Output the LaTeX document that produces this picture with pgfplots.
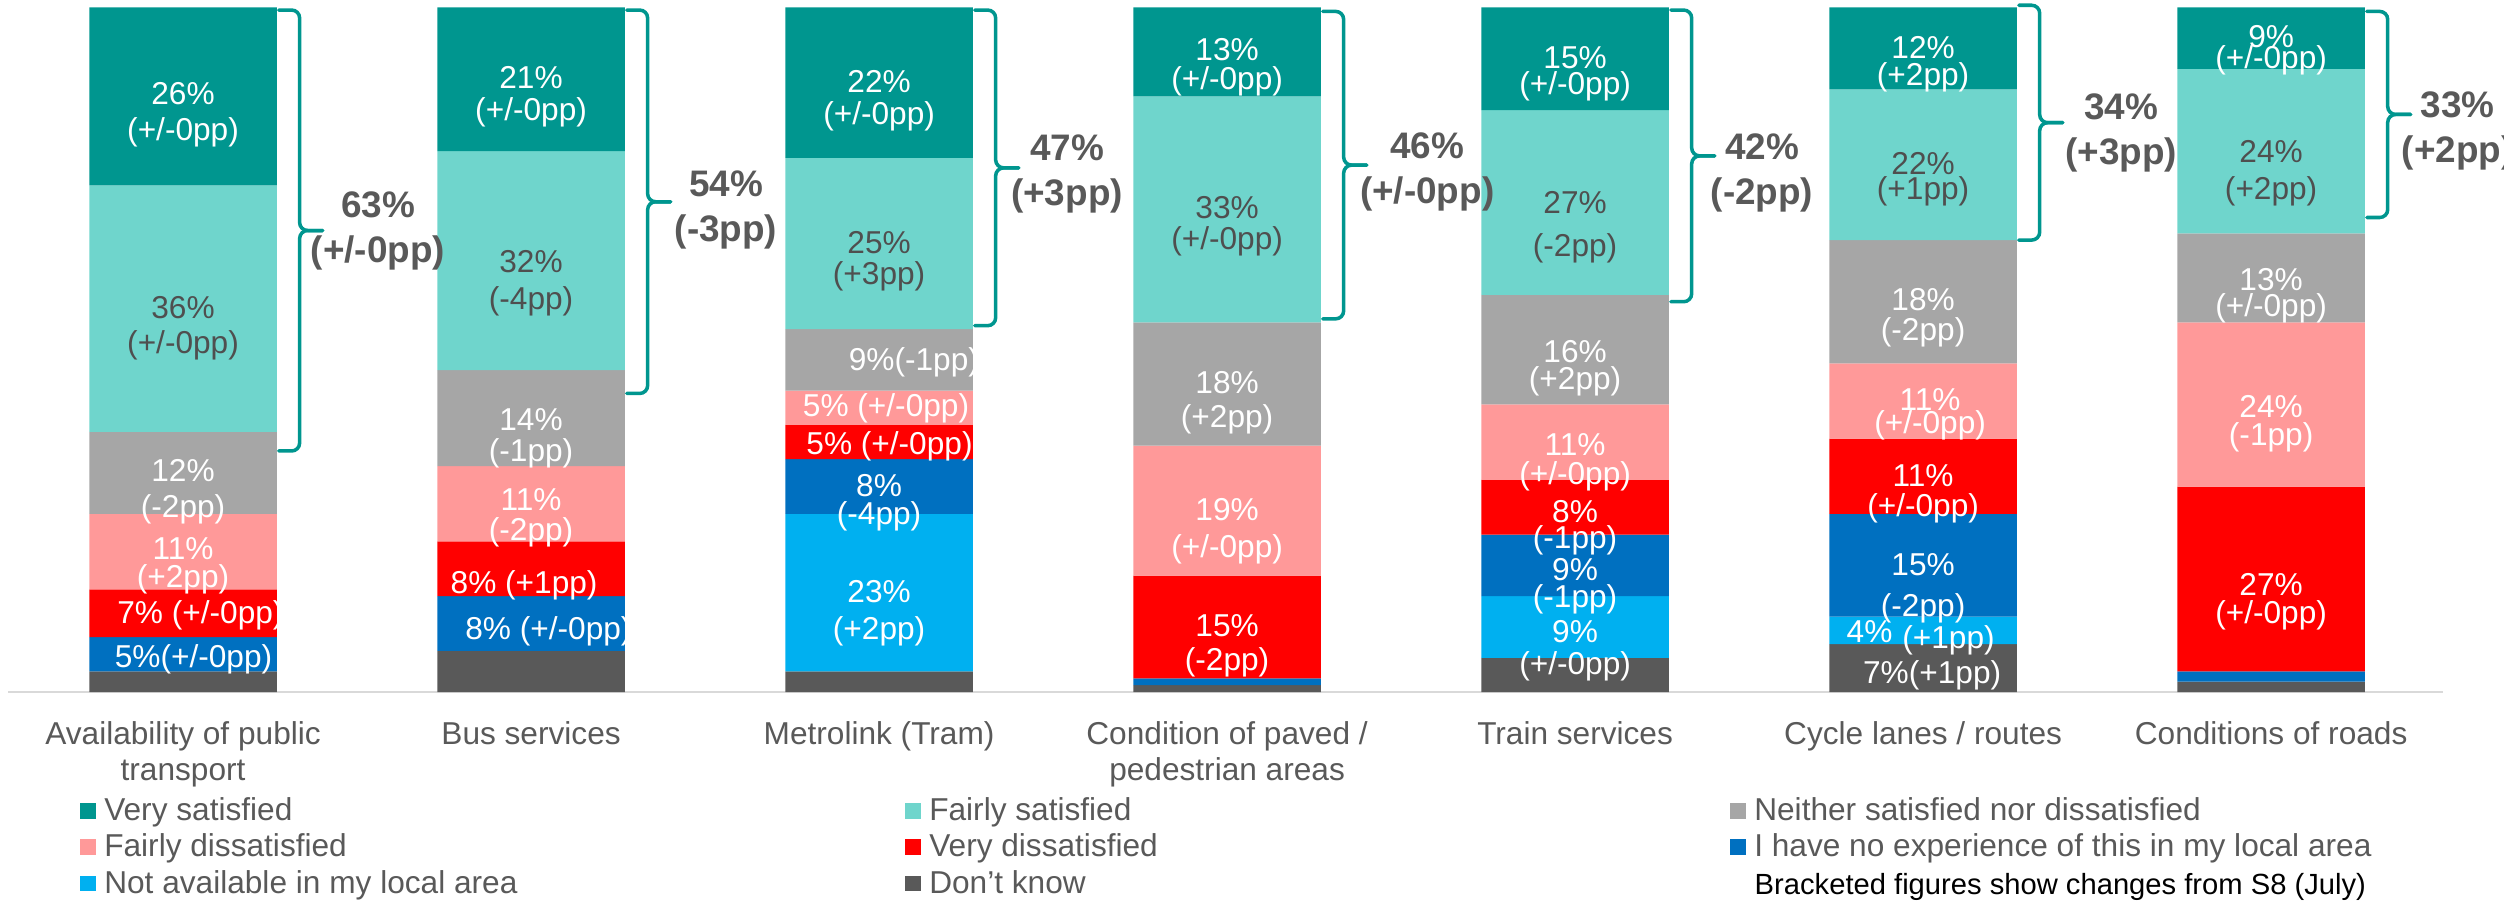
\documentclass[border=0pt]{standalone}
\usepackage{fontspec}
\setmainfont{Liberation Sans}
\usepackage{pgfplots}
\usepackage{pgfplotstable}
\pgfplotsset{compat=1.18}

\definecolor{vsat}{HTML}{00968F}
\definecolor{fsat}{HTML}{6FD5CC}
\definecolor{neith}{HTML}{A6A6A6}
\definecolor{fdis}{HTML}{FF9999}
\definecolor{vdis}{HTML}{FF0000}
\definecolor{noexp}{HTML}{0070C0}
\definecolor{notav}{HTML}{00B0F0}
\definecolor{dknow}{HTML}{595959}
\definecolor{txtgray}{HTML}{595959}
\definecolor{lbldark}{HTML}{4F4F4F}
\definecolor{axisgray}{HTML}{D9D9D9}

% shares of respondents, stacked from the bottom of each bar upwards
\pgfplotstableread{
x  dk  na  ne   vd  fd  nt  fs  vs
0  3   0   5    7   11  12  36  26
1  6   0   8    8   11  14  32  21
2  3   23  8    5   5   9   25  22
3  1   0   1    15  19  18  33  13
4  5   9   9    8   11  16  27  15
5  7   4   15   11  11  18  22  12
6  1.5 0   1.5  27  24  13  24  9
}\satdata

\pgfplotsset{
  legsq/.style={legend image code/.code={%
    \fill[##1] (0cm,-0.0625cm) rectangle (0.155cm,0.0935cm);}},
}

% two-line segment label: x, y, colour, value, change, line distance
\newcommand{\lab}[6]{\node[text=#3, align=center, inner sep=0pt,
  font={\fontsize{9}{#6}\selectfont\lineskiplimit=-20pt\lineskip=0pt}]
  at (axis cs:#1,#2) {#4\\#5};}
% one-line segment label
\newcommand{\slab}[4]{\node[text=#3, inner sep=0pt, font=\fontsize{9}{10.4}\selectfont]
  at (axis cs:#1,#2) {#4};}
% satisfied total beside a bar
\newcommand{\tot}[4]{\node[text=txtgray, align=center, inner sep=0pt,
  font={\fontsize{10.5}{12.8}\selectfont\bfseries}]
  at (axis cs:#1,#2) {#3\\#4};}
% brace round the two satisfied segments: edge x, line x, tip x, top, middle, bottom
\newcommand{\satbrace}[6]{%
  \draw[brc] (axis cs:#1,#4) -- (axis cs:#2,#4) -- (axis cs:#2,#5) -- (axis cs:#3,#5);
  \draw[brc] (axis cs:#3,#5) -- (axis cs:#2,#5) -- (axis cs:#2,#6) -- (axis cs:#1,#6);}

\begin{document}
\begin{tikzpicture}[brc/.style={draw=vsat, line width=1pt, rounded corners=0.08cm, line cap=round}]
\useasboundingbox (0,0) rectangle (25.04,9.03);
\begin{axis}[
  at={(0.08cm,2.11cm)}, anchor=south west,
  scale only axis, width=24.35cm, height=6.847cm,
  xmin=-0.503, xmax=6.494, ymin=0, ymax=100,
  ybar stacked, bar width=1.875cm, reverse stacked plots=false,
  clip=false,
  axis x line*=bottom, axis y line=none,
  x axis line style={draw=axisgray, line width=0.7pt},
  xtick={0,...,6}, xtick style={draw=none}, ytick=\empty,
  xticklabels={{Availability of public\\transport},{Bus services},{Metrolink (Tram)},
    {Condition of paved /\\pedestrian areas},{Train services},{Cycle lanes / routes},
    {Conditions of roads}},
  xticklabel style={align=center, font=\fontsize{9}{10.4}\selectfont, text=txtgray,
    inner sep=0pt, anchor=north, yshift=-0.285cm},
  legend columns=3, reverse legend,
  legend style={draw=none, fill=none, inner sep=0pt, at={(0.0294,-0.15)},
    anchor=north west, font=\fontsize{9}{10.4}\selectfont, text=txtgray,
    cells={anchor=west},
    nodes={inner sep=0pt, text height=7.2pt, text depth=2.5pt, text=txtgray},
    row sep=0.6pt, column sep=0pt,
    /tikz/every odd column/.append style={column sep=0.085cm}},
]
\addplot[fill=dknow, draw=none, legsq] table[x=x, y=dk] {\satdata};
\addlegendentry{\makebox[8.01cm][l]{Don’t know}}
\addplot[fill=notav, draw=none, legsq] table[x=x, y=na] {\satdata};
\addlegendentry{\makebox[8.01cm][l]{Not available in my local area}}
\addplot[fill=noexp, draw=none, legsq] table[x=x, y=ne] {\satdata};
\addlegendentry{\makebox[8.01cm][l]{I have no experience of this in my local area}}
\addplot[fill=vdis, draw=none, legsq] table[x=x, y=vd] {\satdata};
\addlegendentry{\makebox[8.01cm][l]{Very dissatisfied}}
\addplot[fill=fdis, draw=none, legsq] table[x=x, y=fd] {\satdata};
\addlegendentry{\makebox[8.01cm][l]{Fairly dissatisfied}}
\addplot[fill=neith, draw=none, legsq] table[x=x, y=nt] {\satdata};
\addlegendentry{\makebox[8.01cm][l]{Neither satisfied nor dissatisfied}}
\addplot[fill=fsat, draw=none, legsq] table[x=x, y=fs] {\satdata};
\addlegendentry{\makebox[8.01cm][l]{Fairly satisfied}}
\addplot[fill=vsat, draw=none, legsq] table[x=x, y=vs] {\satdata};
\addlegendentry{\makebox[8.01cm][l]{Very satisfied}}

% Availability of public transport
\lab{0}{84.3}{white}{26\%}{(+/-0pp)}{0.36cm}
\lab{0}{53.2}{lbldark}{36\%}{(+/-0pp)}{0.35cm}
\lab{0}{29.2}{white}{12\%}{(-2pp)}{0.36cm}
\lab{0}{18.4}{white}{11\%}{(+2pp)}{0.28cm}
\slab{0.05}{11.2}{white}{7\% (+/-0pp)}
\slab{0.03}{4.8}{white}{5\%(+/-0pp)}
% Bus services
\lab{1}{87}{white}{21\%}{(+/-0pp)}{0.32cm}
\lab{1}{59.7}{lbldark}{32\%}{(-4pp)}{0.375cm}
\lab{1}{37}{white}{14\%}{(-1pp)}{0.31cm}
\lab{1}{25.5}{white}{11\%}{(-2pp)}{0.30cm}
\slab{0.98}{15.6}{white}{8\% (+1pp)}
\slab{1.05}{8.8}{white}{8\% (+/-0pp)}
% Metrolink (Tram)
\lab{2}{86.4}{white}{22\%}{(+/-0pp)}{0.32cm}
\lab{2}{62.9}{lbldark}{25\%}{(+3pp)}{0.31cm}
\slab{2.10}{48.1}{white}{9\%(-1pp)}
\slab{2.02}{41.4}{white}{5\% (+/-0pp)}
\slab{2.03}{35.9}{white}{5\% (+/-0pp)}
\lab{2}{27.6}{white}{8\%}{(-4pp)}{0.28cm}
\lab{2}{11.5}{white}{23\%}{(+2pp)}{0.366cm}
% Condition of paved / pedestrian areas
\lab{3}{91.3}{white}{13\%}{(+/-0pp)}{0.29cm}
\lab{3}{68}{lbldark}{33\%}{(+/-0pp)}{0.31cm}
\lab{3}{42.2}{white}{18\%}{(+2pp)}{0.34cm}
\lab{3}{23.5}{white}{19\%}{(+/-0pp)}{0.366cm}
\lab{3}{6.8}{white}{15\%}{(-2pp)}{0.34cm}
% Train services
\lab{4}{90.3}{white}{15\%}{(+/-0pp)}{0.26cm}
\lab{4}{67.9}{lbldark}{27\%}{(-2pp)}{0.435cm}
\lab{4}{47.3}{white}{16\%}{(+2pp)}{0.275cm}
\lab{4}{33.5}{white}{11\%}{(+/-0pp)}{0.29cm}
\lab{4}{24}{white}{8\%}{(-1pp)}{0.265cm}
\lab{4}{15.4}{white}{9\%}{(-1pp)}{0.27cm}
\lab{4}{6}{white}{9\%}{(+/-0pp)}{0.32cm}
% Cycle lanes / routes
\lab{5}{91.7}{white}{12\%}{(+2pp)}{0.275cm}
\lab{5}{74.9}{lbldark}{22\%}{(+1pp)}{0.25cm}
\lab{5}{54.6}{white}{18\%}{(-2pp)}{0.30cm}
\lab{5.02}{40.6}{white}{11\%}{(+/-0pp)}{0.23cm}
\lab{5}{28.9}{white}{11\%}{(+/-0pp)}{0.30cm}
\lab{5}{15.2}{white}{15\%}{(-2pp)}{0.41cm}
\slab{4.846}{8.8}{white}{4\%}
\slab{5.073}{7.5}{white}{(+1pp)}
\slab{5.026}{2.5}{white}{7\%(+1pp)}
% Conditions of roads
\lab{6}{93.7}{white}{9\%}{(+/-0pp)}{0.206cm}
\lab{6}{75.8}{lbldark}{24\%}{(+2pp)}{0.37cm}
\lab{6}{57.9}{white}{13\%}{(+/-0pp)}{0.265cm}
\lab{6}{39.2}{white}{24\%}{(-1pp)}{0.275cm}
\lab{6}{13.2}{white}{27\%}{(+/-0pp)}{0.284cm}

% satisfied totals with their braces
\satbrace{0.275}{0.335}{0.401}{99.6}{67.4}{35.2}
\satbrace{1.275}{1.335}{1.401}{99.6}{71.6}{43.6}
\satbrace{2.275}{2.335}{2.401}{99.6}{76.55}{53.5}
\satbrace{3.275}{3.335}{3.401}{99.4}{76.95}{54.5}
\satbrace{4.275}{4.335}{4.401}{99.6}{78.3}{57}
\satbrace{5.275}{5.335}{5.401}{100.3}{83.15}{66}
\satbrace{6.275}{6.335}{6.401}{99.4}{84.35}{69.3}
\tot{0.560}{67.3}{63\%}{(+/-0pp)}
\tot{1.560}{70.4}{54\%}{(-3pp)}
\tot{2.540}{75.7}{47\%}{(+3pp)}
\tot{3.575}{75.9}{46\%}{(+/-0pp)}
\tot{4.537}{75.8}{42\%}{(-2pp)}
\tot{5.569}{81.6}{34\%}{(+3pp)}
\tot{6.536}{81.9}{33\%}{(+2pp)}
\end{axis}
\node[anchor=base west, inner sep=0pt, font=\fontsize{8.3}{10}\selectfont]
  at (17.54,0.09) {Bracketed figures show changes from S8 (July)};
\end{tikzpicture}
\end{document}
